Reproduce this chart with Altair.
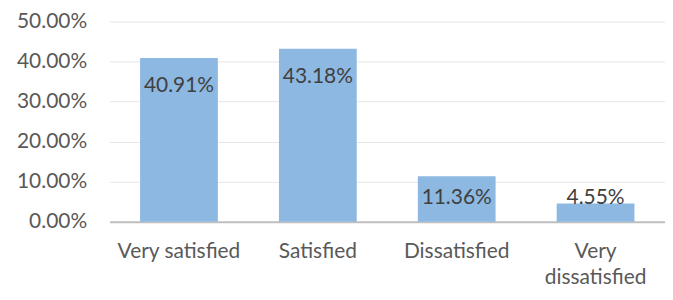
import altair as alt
import pandas as pd

categories = ["Very satisfied", "Satisfied", "Dissatisfied", "Very dissatisfied"]
values = [40.91, 43.18, 11.36, 4.55]
labels = ["40.91%", "43.18%", "11.36%", "4.55%"]

df = pd.DataFrame({"cat": categories, "val": values, "lab": labels})

FONT = "Lato"
FS = 21

x = alt.X("cat:N", sort=categories, title=None,
          scale=alt.Scale(paddingInner=0.44, paddingOuter=0.22),
          axis=alt.Axis(labelAngle=0, labelFontSize=FS, labelColor="#595959",
                        labelFont=FONT, ticks=False, domainColor="#BFBFBF",
                        domainWidth=2, labelPadding=19, labelLineHeight=26,
                        labelExpr="datum.label == 'Very dissatisfied' ? ['Very', 'dissatisfied'] : datum.label"))

bars = alt.Chart(df).mark_bar(color="#8DB8E2").encode(
    x=x,
    y=alt.Y("val:Q", title=None,
            scale=alt.Scale(domain=[0, 50]),
            axis=alt.Axis(values=[0, 10, 20, 30, 40, 50], labelExpr="format(datum.value, '.2f') + '%'",
                          labelFontSize=FS, labelColor="#595959", labelFont=FONT,
                          ticks=False, domain=False, gridColor="#E6E6E6",
                          labelPadding=23)),
)

text = alt.Chart(df).transform_calculate(
    ly="max(datum.val - 7, 5.85)"
).mark_text(fontSize=FS, color="#404040", font=FONT, baseline="middle").encode(
    x=alt.X("cat:N", sort=categories),
    y=alt.Y("ly:Q"),
    text="lab:N",
)

chart = (bars + text).properties(
    width=558, height=201,
    autosize=alt.AutoSizeParams(type="none"),
    padding={"left": 102, "top": 13, "right": 0, "bottom": 68},
).configure_view(stroke=None)

chart.save("out.html", embed_options={"renderer": "svg", "actions": False})
